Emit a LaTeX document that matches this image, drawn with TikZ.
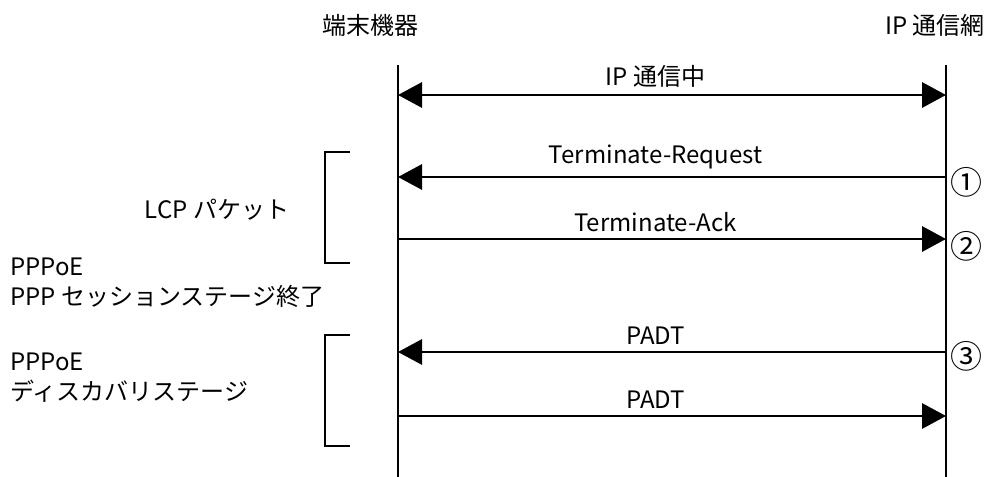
\documentclass[tikz,border=0pt]{standalone}
\usepackage{fontspec}
\setmainfont{Noto Sans CJK JP}
\usetikzlibrary{arrows.meta}
\tikzset{
  >={Triangle[length=18pt,width=19pt]},
  life/.style={draw=black, line width=2.2pt},
  msg/.style={draw=black, line width=1.5pt},
  brk/.style={draw=black, line width=1.5pt},
  lab/.style={font=\fontsize{18}{22.5}\selectfont, inner sep=0pt},
  msglab/.style={lab, above=5pt, pos=0.47},
  side/.style={lab, anchor=west, align=left},
  num/.style={lab, font=\fontsize{24}{24}\selectfont}
}
\begin{document}
\begin{tikzpicture}[x=0.75pt, y=-0.75pt]
  \useasboundingbox (0,0) rectangle (987,477);

  \coordinate (Dtop) at (398,65);  \coordinate (Dbot) at (398,477);
  \coordinate (Ntop) at (946,65);  \coordinate (Nbot) at (946,477);

  \coordinate (D1) at (398,95);  \coordinate (N1) at (946,95);
  \coordinate (D2) at (398,177); \coordinate (N2) at (946,177);
  \coordinate (D3) at (398,239); \coordinate (N3) at (946,239);
  \coordinate (D4) at (398,352); \coordinate (N4) at (946,352);
  \coordinate (D5) at (398,416); \coordinate (N5) at (946,416);

  \node[lab] (dev) at (370,25) {端末機器};
  \node[lab, anchor=east] (net) at (985,25) {IP 通信網};

  \draw[life] (Dtop) -- (Dbot);
  \draw[life] (Ntop) -- (Nbot);

  \draw[msg,<->] (D1) -- (N1) node[msglab] {IP 通信中};
  \draw[msg,<-] (D2) -- (N2) node[msglab] {Terminate-Request};
  \draw[msg,->] (D3) -- (N3) node[msglab] {Terminate-Ack};
  \draw[msg,<-] (D4) -- (N4) node[msglab] {PADT};
  \draw[msg,->] (D5) -- (N5) node[msglab] {PADT};

  \node[num] (n1) at (966,182) {①};
  \node[num] (n2) at (966,246) {②};
  \node[num] (n3) at (966,356) {③};

  % brackets
  \draw[brk] (350,152) -- (325,152) -- (325,263) -- (350,263);
  \draw[brk] (350,335) -- (325,335) -- (325,446) -- (350,446);

  \node[lab] (lcp) at (217,210) {LCP パケット};
  \node[side] (sess) at (10,283) {PPPoE\\PPP セッションステージ終了};
  \node[side] (disc) at (10,378) {PPPoE\\ディスカバリステージ};
\end{tikzpicture}
\end{document}
